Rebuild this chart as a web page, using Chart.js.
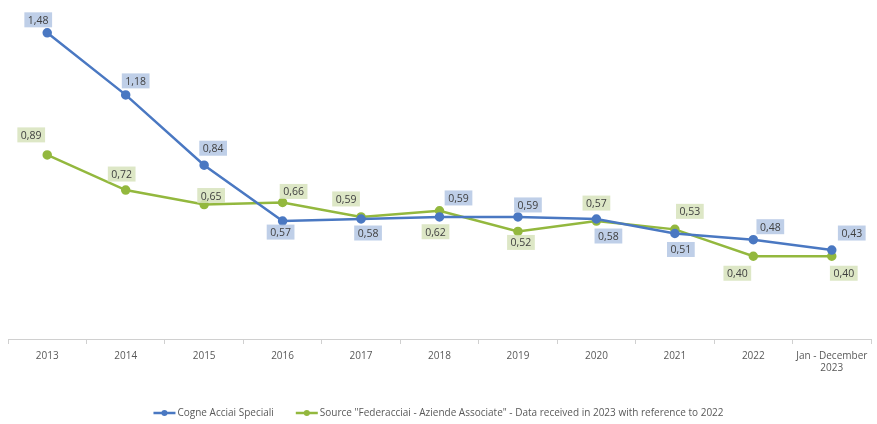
<!DOCTYPE html>
<html>
<head>
<meta charset="utf-8">
<script src="https://cdn.jsdelivr.net/npm/chart.js@4.4.1/dist/chart.umd.min.js"></script>
<style>
  html, body { margin: 0; padding: 0; background: #fff; }
  #wrap { width: 877px; height: 424px; position: relative; }
</style>
</head>
<body>
<div id="wrap"><canvas id="chart"></canvas></div>
<script>
// categories and series values
const years = ['2013', '2014', '2015', '2016', '2017', '2018', '2019', '2020', '2021', '2022', ['Jan - December', '2023']];
const cogneValues = [1.48, 1.18, 0.84, 0.57, 0.58, 0.59, 0.59, 0.58, 0.51, 0.48, 0.43];
const federValues = [0.89, 0.72, 0.65, 0.66, 0.59, 0.62, 0.52, 0.57, 0.53, 0.40, 0.40];

// label nudges in px from each point, [dx, dy]
const cogneLabelShift = [[-9, -13], [10, -14], [9, -17], [-2, 11], [7, 14], [19, -19], [10, -12], [12, 17], [6, 16], [17, -13], [20, -17]];
const federLabelShift = [[-16, -20], [-4, -16], [7, -9], [11, -11], [-15, -18], [-4, 21], [3, 11], [0, -18], [15, -18], [-16, 17], [12, 17]];

const BLUE = '#4a78c2';
const GREEN = '#93b83e';
const FONT = "'Open Sans', sans-serif";

const fmt = v => v.toFixed(2).replace('.', ',');

// value labels with tinted boxes, like the Excel original
const valueLabels = {
    id: 'valueLabels',
    afterDatasetsDraw(chart) {
        const ctx = chart.ctx;
        ctx.save();
        ctx.font = '10.5px ' + FONT;
        ctx.textAlign = 'center';
        ctx.textBaseline = 'middle';
        chart.data.datasets.forEach((ds, i) => {
            const meta = chart.getDatasetMeta(i);
            meta.data.forEach((pt, j) => {
                const text = fmt(ds.data[j]);
                const w = ctx.measureText(text).width + 7;
                const h = 15;
                const [dx, dy] = ds.labelShift[j];
                const x = pt.x + dx, y = pt.y + dy;
                ctx.fillStyle = ds.labelBg;
                ctx.fillRect(x - w / 2, y - h / 2, w, h);
                ctx.fillStyle = '#404040';
                ctx.fillText(text, x, y + 1);
            });
        });
        ctx.restore();
    }
};

// legend drawn by hand: short line with a dot in the middle
const bottomLegend = {
    id: 'bottomLegend',
    afterDraw(chart) {
        const ctx = chart.ctx;
        ctx.save();
        ctx.font = '10px ' + FONT;
        ctx.textBaseline = 'middle';
        const y = 413;
        const items = chart.data.datasets.map(ds => ({ text: ds.label, color: ds.borderColor }));
        const gap = 22, sym = 22;
        let total = 0;
        items.forEach((it, k) => {
            total += sym + 2 + ctx.measureText(it.text).width + (k < items.length - 1 ? gap : 0);
        });
        let x = (chart.width - total) / 2;
        items.forEach(it => {
            ctx.strokeStyle = it.color;
            ctx.lineWidth = 2.5;
            ctx.beginPath();
            ctx.moveTo(x, y);
            ctx.lineTo(x + sym, y);
            ctx.stroke();
            ctx.fillStyle = it.color;
            ctx.beginPath();
            ctx.arc(x + sym / 2, y, 3, 0, Math.PI * 2);
            ctx.fill();
            ctx.fillStyle = '#595959';
            ctx.fillText(it.text, x + sym + 2, y);
            x += sym + 2 + ctx.measureText(it.text).width + gap;
        });
        ctx.restore();
    }
};

new Chart(document.getElementById('chart'), {
    type: 'line',
    data: {
        labels: years,
        datasets: [
            {
                label: 'Cogne Acciai Speciali',
                data: cogneValues,
                borderColor: BLUE,
                backgroundColor: BLUE,
                labelBg: 'rgba(180, 199, 228, 0.85)',
                labelShift: cogneLabelShift,
                borderWidth: 2.5,
                pointRadius: 3.5,
                pointHoverRadius: 3.5,
                tension: 0
            },
            {
                label: 'Source "Federacciai - Aziende Associate" - Data received in 2023 with reference to 2022',
                data: federValues,
                borderColor: GREEN,
                backgroundColor: GREEN,
                labelBg: 'rgba(215, 227, 188, 0.85)',
                labelShift: federLabelShift,
                borderWidth: 2.5,
                pointRadius: 3.5,
                pointHoverRadius: 3.5,
                tension: 0
            }
        ]
    },
    options: {
        responsive: true,
        maintainAspectRatio: false,
        animation: false,
        layout: {
            padding: { left: 8, right: 4, top: 8, bottom: 44 }
        },
        plugins: {
            legend: { display: false },
            tooltip: { enabled: false }
        },
        scales: {
            x: {
                offset: true,
                grid: {
                    offset: true,
                    drawOnChartArea: false,
                    color: '#d0d0d0',
                    tickLength: 5
                },
                border: { color: '#d0d0d0' },
                ticks: {
                    color: '#595959',
                    font: { family: FONT, size: 10 },
                    maxRotation: 0,
                    autoSkip: false,
                    padding: 6
                }
            },
            y: {
                display: false,
                min: 0,
                max: 1.6
            }
        }
    },
    plugins: [valueLabels, bottomLegend]
});
</script>
</body>
</html>
